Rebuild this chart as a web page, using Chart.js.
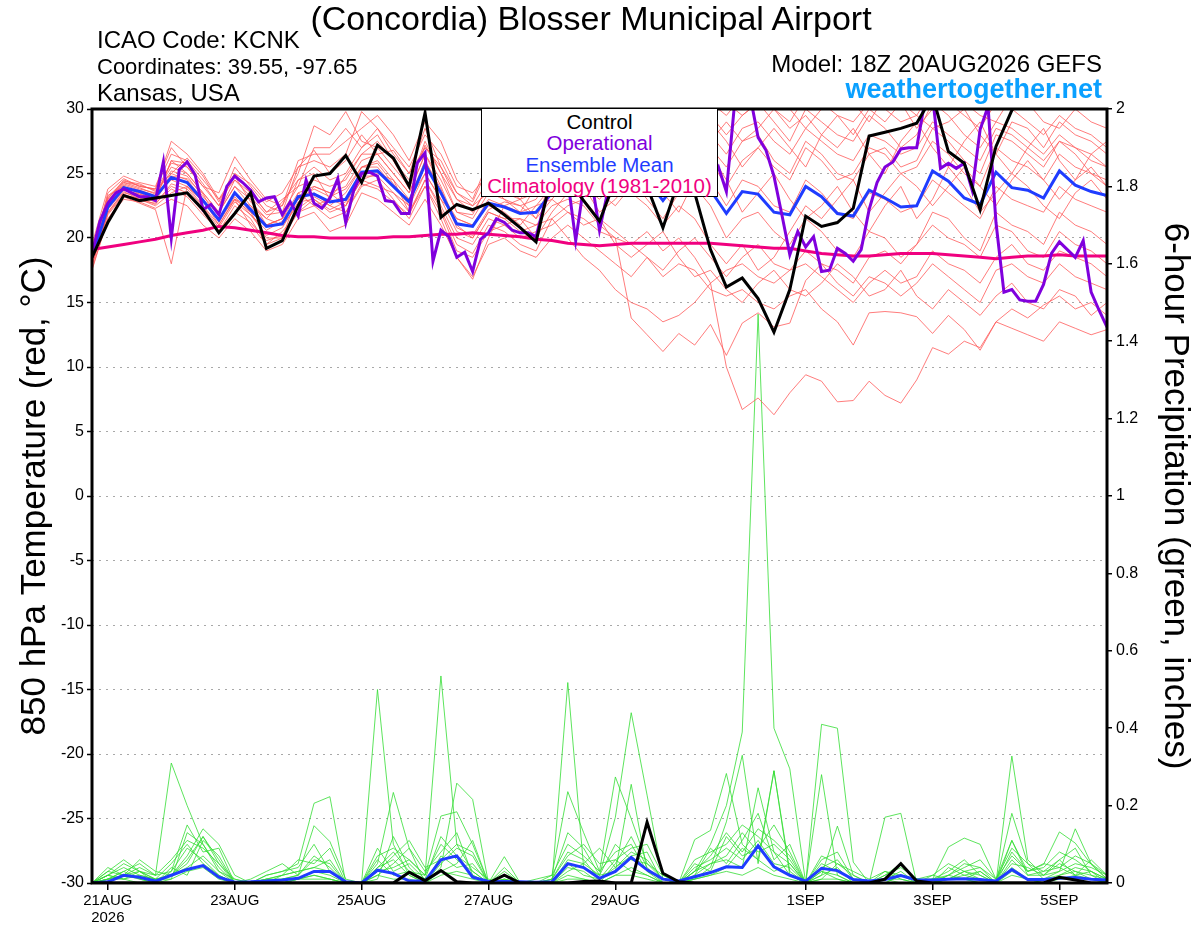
<!DOCTYPE html>
<html>
<head>
<meta charset="utf-8">
<script src="https://cdn.jsdelivr.net/npm/chart.js@4.4.1/dist/chart.umd.min.js"></script>
<style>
  body { margin: 0; background: #fff; }
  #wrap { position: relative; width: 1200px; height: 927px; font-family: "Liberation Sans", Arial, sans-serif; color: #000; }
  #chart { position: absolute; left: 0; top: 0; }
  .txt { position: absolute; white-space: nowrap; }
  #title { left: 0; width: 1182px; top: -2px; text-align: center; font-size: 34px; line-height: 40px; }
  #info { left: 97px; top: 27px; font-size: 24px; line-height: 26px; }
  #info .narrow { font-size: 22px; }
  #model { right: 98px; top: 51px; font-size: 24px; line-height: 26px; text-align: right; }
  #site { right: 98px; top: 75px; font-size: 27px; line-height: 28px; font-weight: bold; color: #0aa0ff; }
  #legend { position: absolute; left: 481px; top: 108px; width: 237px; height: 89px; box-sizing: border-box;
            border: 1.5px solid #000; background: #fff; text-align: center; font-size: 20.5px; line-height: 21.3px; padding-top: 2px; }
</style>
</head>
<body>
<div id="wrap">
  <canvas id="chart" width="1200" height="927"></canvas>
  <div id="title" class="txt">(Concordia) Blosser Municipal Airport</div>
  <div id="info" class="txt">ICAO Code: KCNK<br><span class="narrow">Coordinates: 39.55, -97.65</span><br>Kansas, USA</div>
  <div id="model" class="txt">Model: 18Z 20AUG2026 GEFS</div>
  <div id="site" class="txt">weathertogether.net</div>
  <div id="legend">
    <div style="color:#000">Control</div>
    <div style="color:#8000dd">Operational</div>
    <div style="color:#1f3cff">Ensemble Mean</div>
    <div style="color:#f0007f">Climatology (1981-2010)</div>
  </div>
</div>
<script>
// 6-hourly steps from 18Z 20AUG (index 0) to 18Z 5SEP (index 64)
const dateTicks = [1, 9, 17, 25, 33, 45, 53, 61];
const dateLabels = [['21AUG', '2026'], '23AUG', '25AUG', '27AUG', '29AUG', '1SEP', '3SEP', '5SEP'];

// 850 hPa temperature (C)
const controlTemp = [18.5, 21.2, 23.3, 22.9, 23.1,  23.3, 23.5, 22.2, 20.4, 21.9,  23.5, 19.2, 19.8, 22.5, 24.8,
  25.0, 26.4, 24.3, 27.2, 26.2,  24.0, 29.7, 21.6, 22.6, 22.2,  22.7, 21.8, 20.8, 19.7, 25.0,
  24.5, 22.9, 21.3, 24.5, 25.5,  24.0, 20.8, 24.5, 23.5, 19.1,  16.2, 16.9, 15.3, 12.7, 16.0,
  21.7, 20.9, 21.2, 22.3, 27.9,  28.2, 28.5, 28.9, 31.0, 26.7,  25.8, 22.2, 27.1, 29.9, 31.5,
  32.0, 32.0, 32.5, 32.0, 32.0];

// operational run is 3-hourly (129 values)
const operTemp = [18.8, 21.3, 22.7, 23.5, 23.8, 23.5, 23.2, 23.2, 22.9, 25.9,
  20.0, 25.3, 25.9, 24.9, 22.2, 22.6, 21.8, 24.0, 24.8, 24.3,
  23.7, 22.8, 23.1, 23.2, 21.8, 22.8, 21.7, 24.5, 22.7, 22.3,
  23.1, 24.6, 21.2, 23.7, 25.0, 25.1, 24.8, 22.9, 22.8, 21.9,
  21.9, 25.8, 26.6, 18.2, 20.6, 20.1, 18.5, 18.9, 17.4, 19.9,
  20.4, 21.5, 21.2, 20.6, 20.4, 20.4, 20.1, 22.5, 24.0, 25.5,
  24.5, 19.8, 24.0, 24.5, 20.6, 23.5, 25.0, 26.0, 25.0, 26.5,
  27.0, 26.0, 25.5, 26.0, 25.0, 24.5, 24.0, 25.0, 24.5, 25.5,
  23.6, 30.2, 31.5, 31.0, 27.8, 26.8, 24.8, 21.8, 18.7, 20.5,
  19.3, 20.1, 17.4, 17.5, 19.2, 18.8, 18.2, 19.1, 22.2, 24.3,
  25.5, 25.9, 26.9, 27.0, 27.0, 30.5, 31.0, 25.4, 25.8, 25.4,
  25.8, 23.7, 28.4, 30.2, 21.2, 15.8, 16.0, 15.2, 15.1, 15.1,
  16.4, 18.8, 19.7, 19.1, 18.5, 19.8, 15.8, 14.4, 13.1];

const meanTemp = [18.5, 22.4, 23.9, 23.6, 23.2,  24.7, 24.3, 22.9, 21.4, 23.5,  22.2, 20.9, 21.1, 23.2, 23.4,
  22.8, 23.0, 25.1, 25.2, 24.0,  22.8, 25.7, 23.5, 21.1, 20.9,  22.7, 22.4, 21.9, 22.0, 23.5,
  24.0, 24.5, 24.0, 24.5, 25.0,  24.5, 22.9, 24.5, 25.0, 23.7,  21.9, 23.6, 23.4, 22.0, 21.8,
  24.0, 23.2, 21.9, 21.7, 23.7,  23.1, 22.4, 22.5, 25.2, 24.4,  23.1, 22.6, 25.1, 23.9, 23.7,
  23.1, 25.2, 24.1, 23.6, 23.3];

const climTemp = [19.1, 19.3, 19.5, 19.7, 19.9,  20.2, 20.4, 20.6, 20.9, 20.8,  20.6, 20.4, 20.2, 20.1, 20.1,
  20.0, 20.0, 20.0, 20.0, 20.1,  20.1, 20.2, 20.3, 20.3, 20.4,  20.3, 20.2, 20.1, 19.9, 19.8,
  19.6, 19.5, 19.4, 19.5, 19.6,  19.6, 19.6, 19.6, 19.6, 19.6,  19.5, 19.4, 19.3, 19.2, 19.2,
  19.0, 18.8, 18.7, 18.6, 18.6,  18.7, 18.8, 18.8, 18.8, 18.7,  18.6, 18.5, 18.4, 18.5, 18.6,
  18.6, 18.7, 18.6, 18.6, 18.6];

// ensemble members, temperature
const tMem01 = [19.0, 23.0, 24.5, 24.0, 23.8,  27.5, 26.5, 25.0, 23.0, 24.5,  23.5, 22.0, 22.5, 25.0, 28.7,
  28.0, 29.8, 27.5, 27.0, 25.5,  24.0, 27.5, 25.0, 23.0, 22.5,  24.5, 25.0, 24.0, 23.5, 26.0,
  27.0, 28.5, 27.0, 29.0, 30.5,  29.0, 27.5, 29.0, 31.0, 29.5,  28.0, 29.5, 30.5, 29.0, 27.5,
  30.0, 29.0, 28.0, 27.5, 29.5,  28.5, 27.0, 28.0, 30.5, 29.5,  28.0, 27.0, 29.0, 28.5, 27.5,
  26.5, 28.0, 27.0, 26.0, 25.5];
const tMem02 = [18.0, 22.0, 23.5, 23.2, 22.8,  24.0, 23.5, 22.0, 20.5, 22.5,  21.5, 19.5, 20.0, 22.0, 22.5,
  21.5, 22.0, 24.0, 24.5, 23.0,  21.5, 24.0, 22.0, 19.0, 18.5,  20.5, 21.0, 20.0, 20.5, 21.0,
  22.0, 21.5, 20.5, 20.0, 13.8,  12.5, 11.2, 12.6, 11.7, 13.3,  10.9, 13.4, 14.2, 13.1, 13.4,
  16.7, 18.0, 17.5, 16.5, 18.5,  19.0, 18.0, 19.5, 21.0, 20.0,  19.5, 18.5, 21.0, 20.5, 19.0,
  18.5, 20.5, 19.5, 19.0, 18.0];
const tMem03 = [18.2, 22.5, 24.0, 23.5, 23.0,  25.0, 24.5, 23.0, 21.0, 23.0,  22.0, 21.0, 21.5, 23.5, 22.5,
  23.0, 22.5, 24.5, 25.0, 24.5,  23.0, 25.0, 23.0, 21.5, 21.0,  22.5, 22.0, 21.0, 22.5, 23.0,
  22.0, 21.0, 21.5, 20.5, 19.5,  20.5, 19.0, 20.0, 18.5, 16.5,  10.0, 6.7, 7.6, 6.3, 8.0,
  9.4, 8.9, 7.3, 7.4, 8.9,  7.8, 7.2, 9.0, 11.5, 11.0,  12.0, 11.5, 13.5, 13.0, 12.5,
  12.0, 13.5, 13.0, 12.5, 12.9];
const tMem04 = [17.8, 22.2, 23.7, 23.4, 23.0,  26.0, 25.0, 23.5, 22.0, 24.0,  22.5, 21.5, 21.0, 22.5, 24.0,
  23.5, 24.0, 26.0, 26.5, 25.0,  23.5, 26.5, 24.0, 21.0, 20.0,  22.0, 21.5, 21.5, 21.0, 22.5,
  23.0, 22.5, 21.0, 20.0, 19.5,  18.5, 17.0, 18.0, 17.5, 16.0,  15.5, 16.0, 15.0, 14.5, 15.5,
  16.0, 14.5, 13.5, 11.7, 14.2,  14.3, 14.2, 13.9, 12.6, 14.0,  12.9, 11.3, 13.5, 14.5, 13.8,
  14.8, 15.5, 14.5, 15.0, 14.0];
const tMem05 = [18.6, 22.8, 24.2, 23.8, 23.5,  25.5, 25.0, 23.5, 22.0, 24.0,  23.0, 21.0, 21.5, 24.5, 25.5,
  24.5, 25.0, 27.0, 28.0, 26.0,  24.5, 27.0, 25.5, 23.0, 22.0,  24.0, 23.5, 23.0, 24.5, 26.5,
  28.0, 29.5, 28.5, 30.0, 29.0,  28.0, 26.5, 28.0, 29.5, 27.0,  25.5, 27.5, 28.0, 26.0, 25.0,
  27.5, 26.5, 25.0, 24.5, 26.5,  27.0, 25.5, 26.0, 28.5, 27.5,  26.0, 25.0, 28.0, 27.5, 26.5,
  25.5, 27.5, 26.5, 25.0, 24.5];
const tMem06 = [18.4, 22.0, 23.6, 23.0, 22.5,  23.5, 24.0, 22.5, 21.0, 23.0,  21.0, 19.5, 20.5, 22.0, 23.0,
  22.0, 22.5, 24.5, 24.0, 23.5,  22.0, 24.5, 22.5, 20.0, 19.5,  21.5, 21.0, 21.5, 20.0, 22.0,
  23.5, 24.0, 22.0, 23.0, 24.5,  23.0, 21.5, 23.5, 24.0, 22.5,  20.0, 21.5, 22.0, 20.5, 19.5,
  21.5, 20.5, 19.0, 18.5, 20.5,  20.0, 18.5, 19.5, 22.0, 21.5,  20.0, 19.0, 22.0, 21.0, 20.5,
  19.5, 22.0, 21.0, 20.5, 19.5];
const tMem07 = [19.2, 23.2, 24.4, 24.2, 23.6,  25.8, 25.5, 24.0, 22.5, 25.5,  24.0, 22.5, 22.0, 25.5, 26.0,
  25.5, 26.5, 29.8, 28.5, 27.0,  25.5, 28.0, 26.5, 24.0, 23.5,  25.0, 26.0, 25.5, 25.0, 27.5,
  29.0, 30.5, 29.5, 31.0, 32.0,  30.5, 29.0, 30.5, 32.0, 30.5,  29.5, 31.0, 31.5, 30.0, 29.0,
  31.0, 30.5, 29.5, 29.0, 30.5,  30.0, 29.0, 29.5, 31.5, 30.5,  29.5, 28.5, 30.5, 30.0, 29.0,
  28.0, 29.5, 28.5, 28.0, 27.0];
const tMem08 = [17.5, 21.5, 23.0, 22.8, 22.3,  23.0, 22.5, 21.0, 20.0, 21.5,  20.5, 19.0, 19.5, 21.5, 22.0,
  20.5, 21.0, 23.5, 23.0, 22.0,  21.0, 23.0, 21.0, 18.5, 17.0,  19.5, 20.0, 19.0, 18.5, 20.0,
  21.0, 20.0, 19.0, 18.0, 17.0,  18.5, 17.5, 19.0, 20.0, 18.5,  17.0, 18.5, 19.5, 18.0, 17.5,
  19.0, 18.0, 16.5, 15.5, 17.0,  16.5, 15.5, 16.5, 18.0, 17.0,  16.0, 15.0, 17.5, 18.0, 17.0,
  16.5, 18.0, 17.0, 16.5, 16.0];
const tMem09 = [18.8, 23.5, 24.6, 24.0, 23.8,  26.5, 26.0, 24.5, 23.0, 25.0,  23.5, 22.0, 23.0, 24.0, 27.0,
  27.0, 28.5, 27.0, 28.5, 26.5,  25.0, 27.0, 26.0, 23.5, 22.5,  23.5, 24.0, 23.0, 23.5, 25.5,
  26.0, 27.0, 25.5, 26.5, 27.5,  26.5, 25.0, 27.0, 28.0, 26.0,  24.0, 26.0, 27.0, 25.5, 24.5,
  27.0, 26.0, 24.5, 25.0, 27.0,  26.5, 25.0, 25.5, 27.5, 26.5,  25.0, 24.0, 27.0, 26.0, 25.5,
  24.5, 26.5, 25.5, 25.0, 24.0];
const tMem10 = [18.3, 22.6, 24.1, 23.7, 23.3,  24.5, 24.0, 22.8, 21.5, 23.0,  22.5, 21.0, 21.5, 23.0, 23.5,
  22.5, 23.5, 25.5, 25.5, 24.0,  23.0, 26.0, 23.5, 21.5, 21.0,  23.0, 22.5, 22.0, 22.5, 24.0,
  25.0, 26.0, 25.0, 26.0, 26.5,  25.5, 24.0, 25.5, 26.0, 24.5,  22.5, 24.5, 24.0, 22.5, 22.0,
  24.5, 23.5, 22.0, 21.5, 23.5,  23.0, 22.0, 22.5, 24.5, 23.5,  22.5, 21.5, 24.0, 23.0, 22.5,
  22.0, 24.0, 23.0, 22.5, 22.0];
const tMem11 = [18.0, 21.8, 23.3, 23.1, 22.6,  24.2, 23.8, 22.4, 20.8, 22.8,  21.8, 20.2, 20.8, 22.8, 23.0,
  22.2, 22.8, 24.8, 24.8, 23.5,  22.5, 25.0, 23.0, 20.5, 20.0,  22.0, 21.5, 20.5, 21.0, 21.5,
  20.0, 18.5, 17.5, 16.0, 15.0,  14.5, 13.5, 14.0, 15.0, 16.5,  17.5, 18.0, 17.0, 16.5, 17.5,
  18.0, 17.0, 16.0, 15.0, 16.5,  17.5, 16.5, 17.0, 19.0, 18.0,  17.5, 16.5, 18.5, 19.5, 18.0,
  17.5, 19.0, 18.5, 18.0, 17.0];
const tMem12 = [18.7, 22.9, 24.3, 23.9, 23.4,  25.2, 24.8, 23.2, 22.0, 24.5,  23.2, 21.8, 22.0, 24.0, 24.5,
  24.0, 24.5, 26.5, 26.5, 25.0,  23.5, 26.5, 24.5, 22.0, 21.5,  23.5, 23.0, 22.5, 23.0, 25.0,
  26.5, 27.5, 26.0, 27.5, 28.5,  27.5, 26.0, 27.5, 29.0, 28.0,  26.5, 28.5, 29.0, 27.5, 26.5,
  28.5, 27.5, 26.5, 26.0, 28.0,  27.5, 26.5, 27.0, 29.0, 28.0,  27.0, 26.0, 28.5, 28.0, 27.0,
  26.0, 27.5, 27.0, 26.5, 25.5];
const tMem13 = [17.6, 21.5, 23.2, 22.7, 22.2,  18.0, 24.0, 23.0, 21.5, 23.5,  22.0, 20.0, 20.0, 23.5, 24.0,
  23.5, 22.5, 25.5, 26.0, 24.5,  22.0, 24.0, 21.5, 18.5, 16.8,  20.0, 22.5, 23.0, 21.5, 23.0,
  24.5, 26.0, 23.5, 22.5, 24.0,  26.0, 23.5, 22.0, 24.5, 26.5,  24.5, 22.0, 23.5, 25.0, 23.0,
  21.5, 22.5, 24.0, 22.0, 20.5,  22.5, 24.0, 21.5, 23.0, 25.5,  24.0, 22.0, 23.5, 25.0, 24.0,
  22.5, 21.5, 23.5, 24.5, 23.0];
const tMem14 = [19.5, 23.8, 24.8, 24.3, 24.0,  27.0, 25.5, 24.0, 23.5, 26.3,  24.5, 23.0, 22.5, 26.0, 26.5,
  26.5, 27.5, 28.5, 29.5, 28.0,  26.0, 29.0, 27.5, 24.5, 23.0,  26.0, 27.0, 26.5, 24.0, 26.0,
  30.5, 31.5, 30.0, 28.5, 30.0,  31.5, 30.0, 28.5, 30.0, 31.5,  30.5, 29.5, 30.5, 31.5, 30.0,
  28.5, 30.0, 31.0, 30.5, 29.0,  31.0, 30.5, 28.5, 30.0, 31.5,  30.5, 29.5, 29.0, 31.0, 30.5,
  29.0, 28.5, 30.0, 29.0, 28.5];
const tMem15 = [18.9, 23.3, 24.0, 23.4, 23.0,  26.0, 25.8, 24.2, 22.5, 24.8,  22.8, 21.5, 22.8, 24.5, 25.0,
  23.0, 24.8, 26.5, 27.5, 26.0,  23.8, 27.2, 25.0, 22.0, 21.8,  24.2, 23.0, 22.0, 24.0, 25.0,
  27.0, 25.0, 27.5, 28.5, 26.0,  27.0, 28.5, 26.0, 27.5, 29.0,  27.5, 25.5, 27.0, 28.5, 27.0,
  25.5, 28.0, 27.0, 28.5, 26.5,  25.0, 27.5, 29.0, 27.0, 25.5,  27.5, 29.0, 26.5, 25.0, 27.0,
  28.5, 26.0, 24.5, 26.5, 27.5];
const tMem16 = [18.1, 22.3, 23.8, 23.3, 22.9,  24.8, 24.6, 23.4, 21.2, 23.2,  21.8, 20.6, 21.3, 23.0, 23.8,
  23.2, 23.8, 25.5, 25.8, 24.2,  22.5, 26.0, 23.8, 20.8, 20.2,  22.2, 22.8, 22.5, 21.5, 24.5,
  25.5, 24.0, 23.0, 24.5, 23.5,  22.5, 21.0, 22.5, 21.5, 19.5,  18.0, 19.5, 17.5, 18.5, 20.5,
  22.5, 21.5, 23.0, 24.5, 22.0,  23.5, 25.0, 24.0, 22.5, 24.0,  25.5, 24.0, 22.5, 24.5, 26.0,
  24.5, 23.0, 24.5, 25.5, 24.0];
const tMem17 = [18.6, 23.1, 24.3, 24.1, 23.7,  25.0, 26.2, 24.8, 22.8, 25.0,  24.2, 22.8, 23.5, 25.5, 26.8,
  25.0, 26.0, 28.0, 26.5, 26.8,  25.0, 28.5, 25.5, 23.5, 22.8,  25.5, 25.5, 24.5, 26.0, 28.0,
  26.5, 28.0, 29.5, 27.5, 28.0,  29.5, 27.0, 29.5, 28.0, 27.5,  29.0, 27.5, 28.5, 30.0, 28.5,
  29.5, 28.0, 29.5, 28.0, 30.0,  29.0, 30.5, 29.5, 28.5, 29.0,  30.0, 28.0, 26.5, 29.0, 28.5,
  27.0, 29.0, 28.0, 27.5, 26.5];
const tMem18 = [17.9, 21.9, 23.4, 22.9, 22.7,  23.8, 23.2, 21.8, 20.6, 22.0,  21.2, 19.8, 20.2, 22.3, 23.2,
  22.5, 22.0, 24.2, 23.8, 22.8,  21.8, 24.5, 22.2, 19.5, 18.8,  21.0, 20.5, 19.5, 19.0, 21.5,
  22.5, 23.0, 21.5, 19.5, 18.5,  19.5, 20.5, 18.5, 17.0, 17.5,  16.0, 15.0, 16.5, 17.5, 16.0,
  15.5, 16.5, 18.0, 17.0, 15.5,  16.0, 17.5, 15.5, 14.5, 16.0,  15.0, 14.0, 15.5, 16.5, 15.0,
  14.5, 16.0, 15.5, 14.0, 15.0];
const tempMembers = [tMem01, tMem02, tMem03, tMem04, tMem05, tMem06, tMem07, tMem08, tMem09,
  tMem10, tMem11, tMem12, tMem13, tMem14, tMem15, tMem16, tMem17, tMem18];

// 6-hour precipitation (inches)
const controlPrecip = [0, 0, 0, 0, 0,  0, 0, 0, 0, 0,  0, 0, 0, 0, 0,
  0, 0, 0, 0, 0,  0.028, 0.006, 0.032, 0.003, 0,  0, 0.02, 0, 0, 0,
  0, 0.004, 0.005, 0, 0,  0.157, 0.025, 0.003, 0, 0,  0, 0, 0, 0, 0,
  0, 0, 0, 0, 0,  0.01, 0.05, 0.005, 0, 0,  0, 0, 0, 0, 0,
  0, 0.015, 0.008, 0, 0];
const meanPrecip = [0, 0.003, 0.02, 0.015, 0.005,  0.02, 0.035, 0.045, 0.015, 0.002,  0.003, 0.005, 0.008, 0.012, 0.03,
  0.03, 0.003, 0, 0.033, 0.025,  0.005, 0.005, 0.06, 0.07, 0.015,  0.004, 0.004, 0.003, 0.002, 0.003,
  0.05, 0.04, 0.012, 0.03, 0.066,  0.034, 0.01, 0.005, 0.016, 0.027,  0.042, 0.04, 0.096, 0.042, 0.02,
  0.005, 0.038, 0.032, 0.009, 0.005,  0.009, 0.019, 0.008, 0.008, 0.01,  0.011, 0.009, 0.005, 0.035, 0.009,
  0.009, 0.012, 0.014, 0.01, 0.008];

const pMem01 = [0, 0.01, 0.03, 0.05, 0.02,  0.31, 0.2, 0.1, 0.03, 0,  0, 0.01, 0, 0.01, 0.02,
  0.01, 0, 0, 0.5, 0.1,  0.02, 0, 0.03, 0.02, 0.01,  0, 0, 0, 0, 0,
  0.02, 0.01, 0, 0.02, 0.04,  0.02, 0, 0, 0.03, 0.1,  0.2, 0.39, 1.47, 0.4, 0.295,
  0, 0.03, 0.02, 0, 0,  0.01, 0.02, 0, 0, 0.01,  0.02, 0.01, 0, 0.03, 0.01,
  0, 0.02, 0.03, 0.01, 0];
const pMem02 = [0, 0.03, 0.06, 0.03, 0.01,  0.02, 0.05, 0.12, 0.06, 0,  0, 0.02, 0.03, 0.05, 0.206,
  0.223, 0, 0, 0.04, 0.08,  0.03, 0.02, 0.535, 0.1, 0.03,  0, 0, 0, 0.01, 0.02,
  0.236, 0.13, 0.03, 0.274, 0.166,  0.05, 0.02, 0, 0.01, 0.04,  0.158, 0.33, 0.05, 0.29, 0.02,
  0, 0.41, 0.4, 0.054, 0,  0, 0.02, 0.01, 0, 0.02,  0.01, 0, 0, 0.18, 0.05,
  0.01, 0.03, 0.14, 0.05, 0.01];
const pMem03 = [0, 0.01, 0.02, 0.04, 0.02,  0.03, 0.15, 0.08, 0.09, 0,  0, 0, 0.01, 0.02, 0.148,
  0.107, 0.01, 0, 0.05, 0.234,  0.09, 0, 0.04, 0.258, 0.216,  0, 0.02, 0, 0, 0,
  0.518, 0.04, 0.02, 0.17, 0.44,  0.227, 0.01, 0, 0.02, 0.05,  0.06, 0.04, 0.246, 0.08, 0.02,
  0, 0.02, 0.147, 0.02, 0,  0.17, 0.18, 0, 0.01, 0.093,  0.116, 0.1, 0.01, 0.11, 0.03,
  0.048, 0.132, 0.103, 0.048, 0.01];
const pMem04 = [0, 0.02, 0.01, 0.03, 0,  0.02, 0.06, 0.12, 0.05, 0,  0, 0, 0.01, 0.01, 0.02,
  0.01, 0, 0, 0.03, 0.04,  0.06, 0.02, 0.173, 0.184, 0.1,  0, 0.068, 0, 0, 0.01,
  0.13, 0.09, 0.02, 0.03, 0.255,  0.03, 0, 0, 0.112, 0.136,  0.283, 0.1, 0.06, 0.29, 0.03,
  0, 0.28, 0.02, 0, 0,  0.01, 0.03, 0, 0.02, 0.01,  0.03, 0.02, 0, 0.328, 0.06,
  0.02, 0.06, 0.02, 0.03, 0];
const pMem05 = [0, 0.02, 0.04, 0.02, 0.01,  0.01, 0.13, 0.1, 0.04, 0,  0.01, 0.03, 0.05, 0.02, 0.06,
  0.05, 0, 0, 0.09, 0.03,  0.05, 0.01, 0.12, 0.07, 0.04,  0.01, 0, 0, 0, 0.01,
  0.08, 0.06, 0.01, 0.04, 0.08,  0.06, 0.01, 0, 0.04, 0.06,  0.09, 0.06, 0.11, 0.05, 0.04,
  0, 0.05, 0.03, 0.01, 0,  0.02, 0.05, 0, 0.01, 0.03,  0.06, 0.02, 0, 0.11, 0.02,
  0.03, 0.06, 0.09, 0.02, 0];
const pMem06 = [0, 0.04, 0.02, 0.01, 0,  0.03, 0.09, 0.06, 0.02, 0,  0, 0.02, 0.03, 0.04, 0.1,
  0.03, 0, 0, 0.02, 0.05,  0.09, 0.03, 0.08, 0.13, 0.02,  0, 0.03, 0, 0, 0,
  0.03, 0.05, 0.09, 0.04, 0.07,  0.08, 0, 0, 0.05, 0.03,  0.12, 0.07, 0.09, 0.15, 0.08,
  0, 0.01, 0.05, 0.02, 0,  0, 0.02, 0.01, 0, 0.04,  0.02, 0.03, 0, 0.05, 0.04,
  0.02, 0.03, 0.05, 0.04, 0.02];
const pMem07 = [0, 0.01, 0.03, 0.01, 0,  0.04, 0.02, 0.11, 0.07, 0,  0, 0.01, 0.02, 0.06, 0.05,
  0.09, 0, 0, 0.01, 0.12,  0.04, 0, 0.05, 0.09, 0.07,  0, 0.01, 0, 0, 0,
  0.05, 0.02, 0.01, 0.06, 0.03,  0.02, 0, 0, 0.02, 0.09,  0.05, 0.11, 0.18, 0.06, 0.1,
  0, 0.06, 0.08, 0.01, 0,  0.03, 0.01, 0, 0, 0.02,  0.04, 0.06, 0.01, 0.07, 0.03,
  0.05, 0.04, 0.02, 0.06, 0.02];
const pMem08 = [0, 0.02, 0.01, 0.02, 0.01,  0.02, 0.04, 0.07, 0.03, 0.01,  0, 0, 0, 0.01, 0.03,
  0.02, 0, 0, 0.06, 0.02,  0.03, 0.01, 0.03, 0.05, 0.11,  0, 0.02, 0, 0, 0,
  0.04, 0.03, 0, 0.05, 0.12,  0.04, 0, 0, 0.01, 0.02,  0.04, 0.09, 0.06, 0.03, 0.05,
  0, 0.03, 0.01, 0, 0,  0.01, 0, 0, 0.01, 0.01,  0.01, 0.03, 0, 0.04, 0.01,
  0.01, 0.02, 0.04, 0.03, 0.01];
const pMem09 = [0, 0.03, 0.02, 0.03, 0.01,  0.05, 0.1, 0.05, 0.02, 0,  0, 0.01, 0.02, 0.03, 0.04,
  0.03, 0, 0, 0.04, 0.06,  0.02, 0, 0.07, 0.04, 0.05,  0, 0.01, 0, 0, 0,
  0.06, 0.05, 0.02, 0.1, 0.06,  0.05, 0.01, 0, 0.03, 0.05,  0.07, 0.13, 0.08, 0.1, 0.06,
  0, 0.02, 0.04, 0, 0,  0.01, 0.01, 0, 0, 0.01,  0.03, 0.01, 0, 0.06, 0.02,
  0.02, 0.05, 0.03, 0.02, 0.01];
const pMem10 = [0, 0.01, 0.01, 0, 0,  0.01, 0.03, 0.04, 0.01, 0,  0, 0, 0, 0.01, 0.01,
  0.01, 0, 0, 0.02, 0.01,  0.01, 0, 0.02, 0.03, 0.02,  0, 0, 0, 0, 0,
  0.01, 0.01, 0, 0.02, 0.02,  0.01, 0, 0, 0.01, 0.02,  0.03, 0.02, 0.04, 0.02, 0.01,
  0, 0.01, 0.01, 0, 0,  0, 0, 0, 0, 0.01,  0.01, 0, 0, 0.02, 0.01,
  0, 0.01, 0.02, 0.01, 0];
const pMem11 = [0, 0.02, 0.05, 0.03, 0.02,  0.06, 0.11, 0.09, 0.05, 0.01,  0, 0.01, 0.01, 0.02, 0.07,
  0.04, 0, 0, 0.07, 0.09,  0.06, 0.02, 0.1, 0.06, 0.03,  0, 0.01, 0, 0, 0.02,
  0.1, 0.07, 0.03, 0.08, 0.1,  0.03, 0.01, 0, 0.06, 0.08,  0.1, 0.15, 0.12, 0.08, 0.05,
  0, 0.04, 0.06, 0.01, 0,  0.02, 0.04, 0.01, 0.02, 0.05,  0.03, 0.04, 0, 0.08, 0.03,
  0.04, 0.08, 0.06, 0.03, 0.01];
const pMem12 = [0, 0.01, 0.02, 0.06, 0.03,  0.02, 0.07, 0.14, 0.1, 0.02,  0, 0, 0.02, 0.03, 0.04,
  0.06, 0, 0, 0.03, 0.07,  0.11, 0.04, 0.06, 0.1, 0.08,  0, 0.04, 0, 0, 0.01,
  0.07, 0.1, 0.05, 0.06, 0.09,  0.1, 0.02, 0, 0.03, 0.07,  0.13, 0.08, 0.14, 0.11, 0.07,
  0, 0.07, 0.05, 0.03, 0.01,  0.03, 0.02, 0.01, 0.01, 0.02,  0.05, 0.04, 0.01, 0.09, 0.05,
  0.03, 0.04, 0.07, 0.05, 0.02];
const precipMembers = [pMem01, pMem02, pMem03, pMem04, pMem05, pMem06,
  pMem07, pMem08, pMem09, pMem10, pMem11, pMem12];

function toPoints(values, step) {
  return values.map((v, i) => ({ x: i * step, y: v }));
}

function line(values, step, color, width, axis, order) {
  return {
    data: toPoints(values, step),
    borderColor: color,
    borderWidth: width,
    pointRadius: 0,
    tension: 0,
    fill: false,
    yAxisID: axis,
    order: order
  };
}

const datasets = [];
datasets.push(line(controlTemp, 1, '#000000', 3, 'yT', 1));
datasets.push(line(operTemp, 0.5, '#8000dd', 3, 'yT', 2));
datasets.push(line(meanTemp, 1, '#1f3cff', 3, 'yT', 3));
datasets.push(line(climTemp, 1, '#f0007f', 3, 'yT', 4));
datasets.push(line(controlPrecip, 1, '#000000', 3, 'yP', 5));
datasets.push(line(meanPrecip, 1, '#1f3cff', 3, 'yP', 5));
tempMembers.forEach(m => datasets.push(line(m, 1, '#ff5a5a', 0.8, 'yT', 10)));
precipMembers.forEach(m => datasets.push(line(m, 1, '#33dd33', 0.8, 'yP', 10)));

const framePlugin = {
  id: 'frame',
  afterDraw(chart) {
    const { ctx, chartArea: a } = chart;
    ctx.save();
    ctx.strokeStyle = '#000';
    ctx.lineWidth = 3;
    ctx.strokeRect(a.left, a.top, a.right - a.left, a.bottom - a.top);
    ctx.restore();
  }
};

const fontFamily = '"Liberation Sans", Arial, sans-serif';
const tickFont = { family: fontFamily, size: 16 };
const titleFont = { family: fontFamily, size: 35 };

new Chart(document.getElementById('chart').getContext('2d'), {
  type: 'line',
  data: { datasets: datasets },
  plugins: [framePlugin],
  options: {
    responsive: false,
    animation: false,
    devicePixelRatio: 1,
    layout: { padding: { top: 109, left: 0, right: 0, bottom: 0 } },
    plugins: { legend: { display: false }, tooltip: { enabled: false } },
    scales: {
      x: {
        type: 'linear',
        min: 0,
        max: 64,
        afterBuildTicks: scale => { scale.ticks = dateTicks.map(v => ({ value: v })); },
        afterFit: scale => { scale.height = 44; },
        ticks: {
          autoSkip: false,
          maxRotation: 0,
          padding: 2,
          color: '#000',
          font: { family: fontFamily, size: 15, lineHeight: 1.15 },
          callback: (value, index) => dateLabels[index]
        },
        grid: { drawOnChartArea: false, tickLength: 7, color: '#000', lineWidth: 1.5 },
        border: { display: false }
      },
      yT: {
        position: 'left',
        min: -30,
        max: 30,
        afterFit: scale => { scale.width = 92; },
        ticks: { stepSize: 5, padding: 3, color: '#000', font: tickFont },
        grid: { color: '#a8a8a8', lineWidth: 1, tickLength: 5, tickColor: '#000', tickWidth: 1.5 },
        border: { display: false, dash: [2, 5] },
        title: { display: true, text: '850 hPa Temperature (red, °C)', color: '#000', font: titleFont, padding: { top: 14, bottom: 0 } }
      },
      yP: {
        position: 'right',
        min: 0,
        max: 2,
        afterFit: scale => { scale.width = 93; },
        ticks: { stepSize: 0.2, padding: 4, color: '#000', font: tickFont,
                 callback: v => String(Number(v.toFixed(1))) },
        grid: { drawOnChartArea: false, tickLength: 5, color: '#000', lineWidth: 1.5 },
        border: { display: false },
        title: { display: true, text: '6-hour Precipitation (green, inches)', color: '#000', font: titleFont, padding: { top: 4, bottom: 0 } }
      }
    }
  }
});
</script>
</body>
</html>
